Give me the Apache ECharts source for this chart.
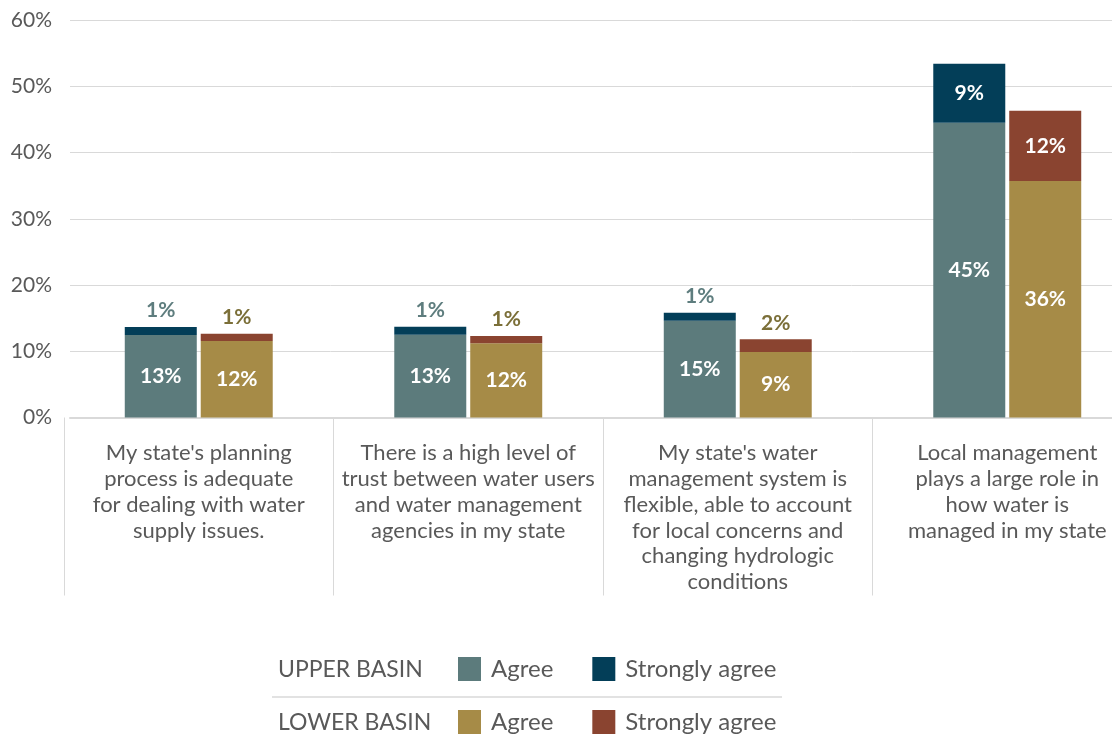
<!DOCTYPE html>
<html>
<head>
<meta charset="utf-8">
<script src="https://cdn.jsdelivr.net/npm/echarts@6/dist/echarts.min.js"></script>
<style>html,body{margin:0;padding:0;background:#fff}#c{width:1112px;height:740px}</style>
</head>
<body>
<div id="c"></div>
<script>
const categories = [
  "My state's planning\nprocess is adequate\nfor dealing with water\nsupply issues.",
  "There is a high level of\ntrust between water users\nand water management\nagencies in my state",
  "My state's water\nmanagement system is\nflexible, able to account\nfor local concerns and\nchanging hydrologic\nconditions",
  "Local management\nplays a large role in\nhow water is\nmanaged in my state"
];
const upperAgree = [12.45, 12.5, 14.6, 44.5];
const upperStrong = [1.2, 1.2, 1.2, 8.9];
const lowerAgree = [11.55, 11.2, 9.9, 35.7];
const lowerStrong = [1.1, 1.1, 1.9, 10.6];
const upperAgreeLabels = ["13%", "13%", "15%", "45%"];
const upperStrongLabels = ["1%", "1%", "1%", "9%"];
const lowerAgreeLabels = ["12%", "12%", "9%", "36%"];
const lowerStrongLabels = ["1%", "1%", "2%", "12%"];
const yTicks = [0, 10, 20, 30, 40, 50, 60];

const FONT = 'Lato';
const GREY = '#595959';
const C_UA = '#5c7b7c', C_US = '#033e58', C_LA = '#a68b47', C_LS = '#8a4430';

function agreeData(vals, labels) {
  return vals.map((v, i) => ({ value: v, label: { formatter: labels[i] } }));
}
function strongData(vals, labels, outColor) {
  return vals.map((v, i) => v < 4
    ? { value: v, label: { formatter: labels[i], position: 'top', distance: 6, color: outColor } }
    : { value: v, label: { formatter: labels[i], position: 'inside', color: '#fff' } });
}
const barLabel = { show: true, position: 'inside', color: '#fff', fontFamily: FONT, fontWeight: 'bold', fontSize: 21 };

const chart = echarts.init(document.getElementById('c'), null, { renderer: 'canvas' });
chart.setOption({
  backgroundColor: '#fff',
  animation: false,
  textStyle: { fontFamily: FONT },
  title: [
    { text: 'UPPER BASIN', left: 278, top: 656, padding: 0, textStyle: { fontFamily: FONT, fontSize: 23, fontWeight: 'normal', color: GREY, lineHeight: 28 } },
    { text: 'LOWER BASIN', left: 278, top: 709, padding: 0, textStyle: { fontFamily: FONT, fontSize: 23, fontWeight: 'normal', color: GREY, lineHeight: 28 } }
  ],
  legend: [
    { data: ['Upper Agree', 'Upper Strongly agree'], left: 458, top: 657, padding: 0, icon: 'rect', itemWidth: 23, itemHeight: 24, itemGap: 39,
      formatter: n => n.replace('Upper ', ''), textStyle: { fontFamily: FONT, fontSize: 24, color: GREY, padding: [0, 0, 0, 5] }, selectedMode: false },
    { data: ['Lower Agree', 'Lower Strongly agree'], left: 458, top: 710, padding: 0, icon: 'rect', itemWidth: 23, itemHeight: 24, itemGap: 39,
      formatter: n => n.replace('Lower ', ''), textStyle: { fontFamily: FONT, fontSize: 24, color: GREY, padding: [0, 0, 0, 5] }, selectedMode: false }
  ],
  graphic: [
    { type: 'line', shape: { x1: 272, y1: 697, x2: 782, y2: 697 }, style: { stroke: '#d9d9d9', lineWidth: 1.5 } }
  ],
  grid: [
    { left: 64, width: 1078, top: 20, bottom: 322.5, containLabel: false, outerBoundsMode: 'none' },
    { left: 70, right: 0, top: 20, bottom: 322.5, containLabel: false, outerBoundsMode: 'none' }
  ],
  xAxis: [
    { type: 'category', gridIndex: 0, data: categories,
      axisLine: { show: false },
      axisTick: { show: true, length: 178, lineStyle: { color: '#d9d9d9', width: 1 } },
      axisLabel: { margin: 23, color: GREY, fontFamily: FONT, fontSize: 22, lineHeight: 25.7, interval: 0 } },
    { type: 'category', gridIndex: 1, data: [''],
      axisLine: { show: true, lineStyle: { color: '#d9d9d9', width: 2 } },
      axisTick: { show: false }, axisLabel: { show: false } }
  ],
  yAxis: [
    { type: 'value', gridIndex: 0, min: 0, max: 60, interval: 10, show: false, splitLine: { show: false } },
    { type: 'value', gridIndex: 1, min: 0, max: 60, interval: 10,
      axisLine: { show: false }, axisTick: { show: false },
      splitLine: { lineStyle: { color: '#d9d9d9', width: 1 } },
      axisLabel: { margin: 18, color: GREY, fontFamily: FONT, fontSize: 21, formatter: v => yTicks.includes(v) ? v + '%' : '' } }
  ],
  series: [
    { name: 'Upper Agree', type: 'bar', stack: 'upper', xAxisIndex: 0, yAxisIndex: 0, barWidth: 72, barGap: '5.5%',
      itemStyle: { color: C_UA }, label: barLabel, data: agreeData(upperAgree, upperAgreeLabels) },
    { name: 'Upper Strongly agree', type: 'bar', stack: 'upper', xAxisIndex: 0, yAxisIndex: 0, barWidth: 72, barGap: '5.5%',
      itemStyle: { color: C_US }, label: barLabel, data: strongData(upperStrong, upperStrongLabels, '#5e7d7e') },
    { name: 'Lower Agree', type: 'bar', stack: 'lower', xAxisIndex: 0, yAxisIndex: 0, barWidth: 72, barGap: '5.5%',
      itemStyle: { color: C_LA }, label: barLabel, data: agreeData(lowerAgree, lowerAgreeLabels) },
    { name: 'Lower Strongly agree', type: 'bar', stack: 'lower', xAxisIndex: 0, yAxisIndex: 0, barWidth: 72, barGap: '5.5%',
      itemStyle: { color: C_LS }, label: barLabel, data: strongData(lowerStrong, lowerStrongLabels, '#7b6f38') }
  ]
});
</script>
</body>
</html>
